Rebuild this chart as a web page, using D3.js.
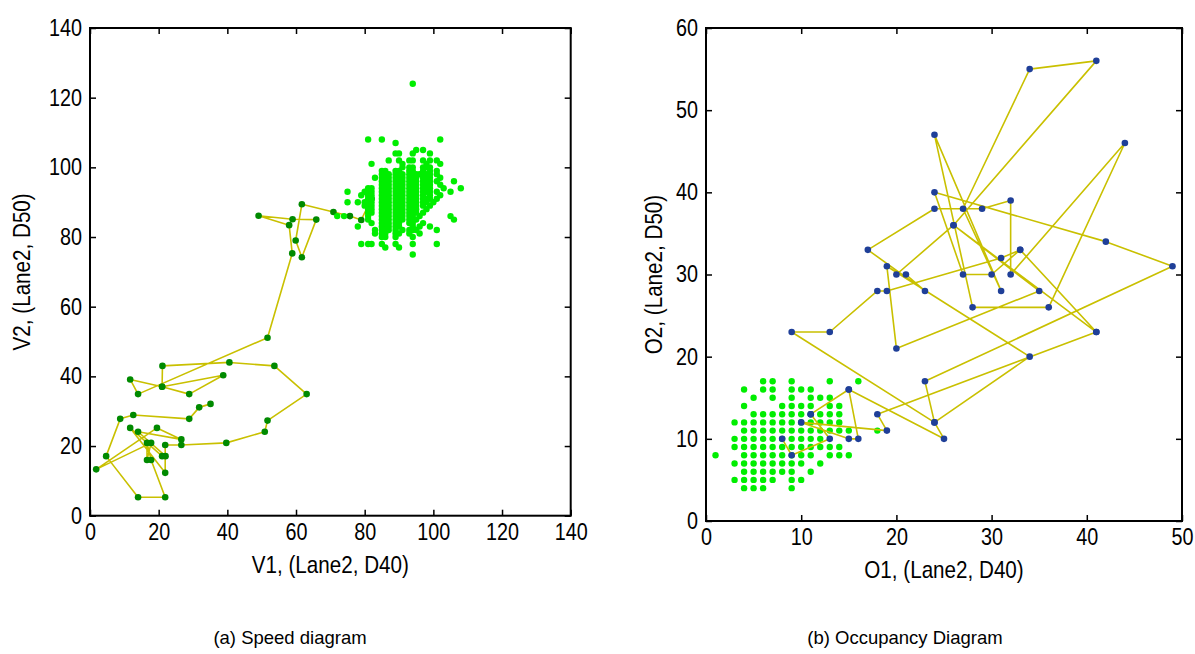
<!DOCTYPE html>
<html lang="en">
<head>
<meta charset="utf-8">
<style>
  body { margin: 0; background: #fff; }
  .tick text { font-family: "Liberation Sans", Arial, sans-serif; font-size: 23px; fill: #000; }
  .axtitle { font-family: "Liberation Sans", Arial, sans-serif; font-size: 24px; fill: #000; }
  .caption { font-family: "Liberation Sans", Arial, sans-serif; font-size: 18.5px; fill: #000; }
</style>
</head>
<body>
<svg width="1195" height="654"></svg>
<script src="https://cdn.jsdelivr.net/npm/d3@7"></script>
<script>
// ---- speed diagram (a) ----
var speedTicks = [0, 20, 40, 60, 80, 100, 120, 140];
// trajectory through congestion, [V1, V2]
var speedPath = [
  [35.1,32.1],[31.8,31.1],[28.9,27.8],[12.6,28.9],[8.8,27.8],[4.7,17.1],[14.0,5.3],[21.9,5.3],
  [17.8,16.0],[16.6,20.9],[16.6,16.0],[17.8,20.9],[1.8,13.3],[19.5,25.2],[26.6,21.9],[14.0,24.1],
  [22.0,17.1],[21.0,17.1],[11.7,25.2],[21.9,12.3],[21.9,20.3],[26.6,20.3],[39.7,20.9],[50.9,24.1],
  [51.7,27.3],[63.1,34.9],[53.7,43.0],[40.6,44.0],[21.1,43.0],[21.0,37.0],[38.8,40.3],[28.9,34.9],
  [21.0,37.0],[11.7,39.1],[14.0,34.9],[51.7,51.1],[58.9,75.3],[58.0,83.4],[49.1,86.1],[59.0,85.1],
  [65.9,85.0],[61.7,74.2],[59.9,79.0],[61.7,89.4],[70.9,87.2],[75.7,86.0],[79.0,84.9],[82,91]
];
// free flow cluster, one row per V2 value: [V2, [V1 values]]
var speedCluster = [
  [124, [94]],
  [108, [81, 85, 102]],
  [107, [89]],
  [105, [95, 97]],
  [104, [89, 90, 94, 99]],
  [102, [87, 90, 93, 94, 97, 99, 101]],
  [101, [82, 91, 98, 102]],
  [100, [91, 93, 94, 97, 98, 99]],
  [99, [85, 86, 89, 90, 93, 94, 97, 99, 101]],
  [98, [85, 86, 87, 89, 90, 91, 93, 94, 95, 96, 97, 98, 99, 101]],
  [97, [83, 85, 86, 87, 89, 90, 91, 93, 94, 95, 97, 98, 99, 102]],
  [96, [85, 86, 87, 89, 90, 91, 93, 94, 95, 97, 98, 99, 101, 106]],
  [95, [85, 86, 87, 89, 90, 91, 93, 94, 95, 97, 98, 99, 102]],
  [94, [81, 82, 85, 86, 87, 89, 90, 91, 93, 94, 95, 97, 98, 99, 103, 108]],
  [93, [75, 80, 81, 82, 85, 86, 87, 89, 90, 91, 93, 94, 95, 97, 98, 99, 101, 105]],
  [92, [79, 81, 82, 85, 86, 87, 89, 90, 91, 93, 94, 95, 97, 99, 102]],
  [91, [81, 82, 85, 86, 87, 89, 90, 91, 93, 94, 95, 97, 98, 99, 101]],
  [90, [75, 78, 80, 81, 82, 85, 86, 87, 89, 90, 91, 93, 94, 95, 97, 98, 100]],
  [89, [80, 81, 82, 85, 86, 87, 89, 90, 91, 93, 94, 95, 97, 99]],
  [88, [81, 82, 85, 86, 87, 89, 90, 91, 93, 94, 95, 98]],
  [87, [81, 82, 85, 86, 87, 89, 90, 91, 93, 94, 95, 97]],
  [86, [72, 74, 81, 85, 86, 87, 89, 90, 91, 93, 94, 96, 105]],
  [85, [81, 85, 86, 87, 89, 90, 91, 93, 94, 95, 106]],
  [84, [82, 85, 86, 87, 89, 90, 93, 94, 97]],
  [83, [78, 85, 86, 87, 89, 90, 94, 96, 99]],
  [82, [83, 85, 86, 87, 89, 91, 93, 94, 95, 101]],
  [81, [83, 85, 86, 89, 90, 93, 96]],
  [80, [85, 86, 89, 94]],
  [78, [79, 81, 82, 85, 89, 94, 101]],
  [77, [86, 90]],
  [75, [94]]
];

// ---- occupancy diagram (b) ----
var occXTicks = [0, 10, 20, 30, 40, 50];
var occYTicks = [0, 10, 20, 30, 40, 50, 60];
var occPath = [
  [8,10],[9,8],[13,10],[11,13],[15,16],[16,10],[15,10],[10,12],[19,11],[18,13],[41,23],[33,33],
  [30,30],[27,30],[24,40],[42,34],[49,31],[23,17],[24,12],[34,20],[19,31],[20,21],[35,28],[26,36],
  [41,56],[34,55],[27,38],[31,28],[24,47],[28,26],[36,26],[44,46],[32,30],[32,39],[29,38],[24,38],
  [17,33],[23,28],[21,30],[20,30],[26,36],[41,23],[33,33],[31,32],[19,28],[18,28],[13,23],[9,23],
  [24,12],[25,10],[15,16],[11,13]
];
// [O2, [O1 values]]
var occCluster = [
  [17, [6, 7, 9, 13, 16]],
  [16, [4, 6, 7, 9, 10, 11]],
  [15, [5, 7, 9, 11, 12, 13]],
  [14, [4, 8, 9, 10, 11, 13, 14]],
  [13, [5, 6, 7, 8, 9, 10, 11, 12, 13, 14]],
  [12, [3, 4, 5, 6, 7, 8, 9, 10, 11, 12, 13, 14]],
  [11, [4, 5, 6, 7, 8, 9, 10, 11, 12, 13, 14, 15, 18]],
  [10, [3, 4, 5, 6, 7, 8, 9, 10, 11, 12]],
  [9, [3, 4, 5, 6, 7, 8, 9, 10, 11, 12, 13, 14]],
  [8, [1, 4, 5, 6, 7, 8, 9, 10, 11, 13, 14, 15]],
  [7, [3, 4, 5, 6, 7, 8, 9, 10, 12]],
  [6, [4, 5, 6, 7, 8, 9, 11]],
  [5, [3, 4, 5, 6, 7, 9, 10]],
  [4, [4, 5, 6, 9]]
];

var lineColor = "#c9c000";
var narrow = 0.86; // the original uses a condensed face
var svg = d3.select("svg");

function flatten(rows) {
  var out = [];
  rows.forEach(function (r) {
    r[1].forEach(function (x) { out.push([x, r[0]]); });
  });
  return out;
}

function panel(o) {
  var x = d3.scaleLinear().domain(o.xDomain).range([o.left, o.right]);
  var y = d3.scaleLinear().domain(o.yDomain).range([o.bottom, o.top]);
  var g = svg.append("g");

  function drawCluster() {
    g.append("g").selectAll("circle")
      .data(flatten(o.cluster))
      .enter().append("circle")
      .attr("cx", function (d) { return x(d[0]); })
      .attr("cy", function (d) { return y(d[1]); })
      .attr("r", 3.2)
      .attr("fill", "#00ee00");
  }
  function drawPath() {
    g.append("path")
      .datum(o.path)
      .attr("fill", "none")
      .attr("stroke", lineColor)
      .attr("stroke-width", 1.6)
      .attr("stroke-linejoin", "round")
      .attr("d", d3.line().x(function (d) { return x(d[0]); }).y(function (d) { return y(d[1]); }));
    g.append("g").selectAll("circle")
      .data(o.path)
      .enter().append("circle")
      .attr("cx", function (d) { return x(d[0]); })
      .attr("cy", function (d) { return y(d[1]); })
      .attr("r", 3.3)
      .attr("fill", o.pathColor);
  }
  if (o.clusterOnTop) { drawPath(); drawCluster(); }
  else { drawCluster(); drawPath(); }

  // axes, matlab style ticks pointing inward on every side
  g.append("g").attr("transform", "translate(0," + o.bottom + ")")
    .call(d3.axisBottom(x).tickValues(o.xTicks).tickSize(-6).tickPadding(8));
  g.append("g").attr("transform", "translate(0," + o.top + ")")
    .call(d3.axisTop(x).tickValues(o.xTicks).tickSize(-6).tickFormat(""));
  g.append("g").attr("transform", "translate(" + o.left + ",0)")
    .call(d3.axisLeft(y).tickValues(o.yTicks).tickSize(-6).tickPadding(8));
  g.append("g").attr("transform", "translate(" + o.right + ",0)")
    .call(d3.axisRight(y).tickValues(o.yTicks).tickSize(-6).tickFormat(""));
  g.selectAll(".domain").remove();
  g.selectAll(".tick line").attr("stroke", "#000").attr("stroke-width", 1.5);
  g.selectAll(".tick text")
    .attr("font-family", null).attr("font-size", null)
    .attr("transform", function () {
      var tx = +d3.select(this).attr("x") || 0;
      return "translate(" + tx + ",0) scale(" + narrow + ",1) translate(" + (-tx) + ",0)";
    });

  g.append("rect")
    .attr("x", o.left).attr("y", o.top)
    .attr("width", o.right - o.left).attr("height", o.bottom - o.top)
    .attr("fill", "none").attr("stroke", "#000").attr("stroke-width", 2);

  g.append("text").attr("class", "axtitle")
    .attr("transform", "translate(" + ((o.left + o.right) / 2) + "," + (o.bottom + 57) + ") scale(" + narrow + ",1)")
    .attr("text-anchor", "middle").text(o.xLabel);
  g.append("text").attr("class", "axtitle")
    .attr("transform", "translate(" + (o.left - o.yTitleGap) + "," + ((o.top + o.bottom) / 2) + ") rotate(-90) scale(" + narrow + ",1)")
    .attr("text-anchor", "middle").text(o.yLabel);
  g.append("text").attr("class", "caption")
    .attr("x", o.captionX).attr("y", 644)
    .attr("text-anchor", "middle").text(o.caption);
}

panel({
  left: 90, right: 570.7, top: 28, bottom: 515.7,
  xDomain: [0, 140], yDomain: [0, 140], xTicks: speedTicks, yTicks: speedTicks,
  path: speedPath, cluster: speedCluster, pathColor: "#008a00", clusterOnTop: true,
  xLabel: "V1, (Lane2, D40)", yLabel: "V2, (Lane2, D50)", yTitleGap: 60,
  caption: "(a) Speed diagram", captionX: 290
});
panel({
  left: 706, right: 1182, top: 28, bottom: 521,
  xDomain: [0, 50], yDomain: [0, 60], xTicks: occXTicks, yTicks: occYTicks,
  path: occPath, cluster: occCluster, pathColor: "#1f3f98", clusterOnTop: false,
  xLabel: "O1, (Lane2, D40)", yLabel: "O2, (Lane2, D50)", yTitleGap: 44,
  caption: "(b) Occupancy Diagram", captionX: 905
});
</script>
</body>
</html>
